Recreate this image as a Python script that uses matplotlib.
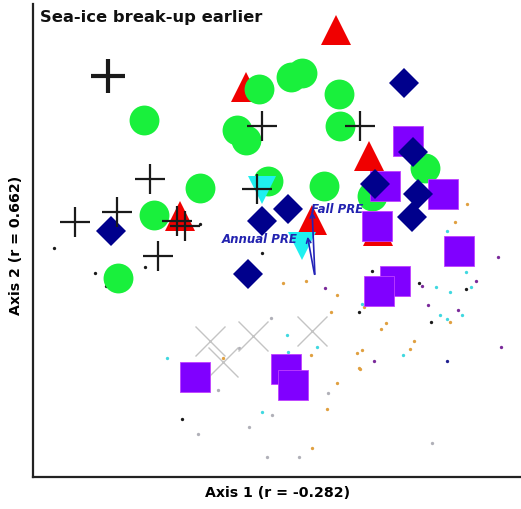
import matplotlib.pyplot as plt

# positions (pixel units, y grows downward)
green_x = [144, 259, 291, 302, 339, 237, 246, 340, 200, 154, 118, 268, 324, 372, 425]
green_y = [121, 90, 78, 74, 95, 131, 141, 127, 189, 216, 279, 182, 187, 197, 169]

red_x = [336, 246, 369, 180, 312, 378]
red_y = [31, 88, 157, 217, 221, 232]

cyan_x = [262, 302]
cyan_y = [191, 247]

purple_x = [408, 385, 443, 377, 459, 395, 379, 195, 286, 293]
purple_y = [142, 187, 195, 227, 252, 282, 292, 378, 370, 386]

navy_x = [404, 413, 375, 418, 412, 288, 262, 248, 111]
navy_y = [84, 153, 185, 195, 218, 210, 222, 275, 232]

plus_x = [262, 360, 150, 117, 75, 177, 185, 158, 257]
plus_y = [127, 127, 180, 213, 223, 222, 227, 257, 190]
bold_plus_x = [108]
bold_plus_y = [77]

cross_x = [210, 223, 253, 312]
cross_y = [342, 363, 337, 332]

# small site dots, by colour
dots = {
    "#1a1a1a": ([182, 372, 419, 466, 359, 431, 54, 95, 145, 106, 262, 200],
                [420, 272, 284, 290, 313, 323, 249, 274, 268, 287, 254, 225]),
    "#e0a040": ([283, 306, 337, 331, 223, 311, 357, 359, 337, 327, 312, 467, 455,
                 364, 450, 386, 381, 414, 410, 362, 360],
                [284, 282, 296, 313, 359, 356, 354, 369, 384, 410, 449, 205, 223,
                 308, 323, 324, 330, 342, 350, 351, 370]),
    "#40d8e0": ([287, 317, 167, 288, 262, 447, 466, 436, 471, 450, 362, 440, 447,
                 462, 403],
                [336, 348, 359, 353, 413, 232, 273, 288, 288, 293, 305, 316, 320,
                 316, 356]),
    "#b0b0b8": ([271, 239, 218, 328, 272, 198, 249, 267, 299, 432],
                [319, 349, 391, 394, 416, 435, 428, 458, 458, 444]),
    "#7a2a9a": ([325, 498, 476, 422, 428, 458, 374, 501],
                [289, 258, 282, 287, 306, 311, 362, 348]),
    "#ff60ff": ([370, 368], [285, 302]),
    "#202090": ([378, 447], [288, 362]),
}

arrow_x0, arrow_y0 = 315, 278
arrow_names = ["Fall PRE", "Annual PRE"]
arrow_x = [312, 307]
arrow_y = [210, 235]

fig = plt.figure(figsize=(5.21, 5.10), dpi=100)
ax = fig.add_axes([33 / 521, 32 / 510, 488 / 521, 473 / 510])

for c, (xs, ys) in dots.items():
    ax.plot(xs, ys, "o", color=c, ms=2.4, mew=0, zorder=1)

ax.plot(cross_x, cross_y, "x", color="#c4c4c4", ms=22, mew=1.0, zorder=2)
ax.plot(red_x, red_y, "^", color="#f00000", ms=22, mew=0, zorder=3)
ax.plot(green_x, green_y, "o", color="#19f03c", ms=21.5, mew=0, zorder=4)
ax.plot(cyan_x, cyan_y, "v", color="#1ff0f0", ms=20, mew=0, zorder=5)
ax.plot(purple_x, purple_y, "s", color="#8000ff", mec="#c040ff", ms=21, mew=0.6, zorder=6)
ax.plot(navy_x, navy_y, "D", color="#00008c", ms=15, mew=0, zorder=7)
ax.plot(plus_x, plus_y, "+", color="#1a1a1a", ms=22, mew=1.6, zorder=8)
ax.plot(bold_plus_x, bold_plus_y, "+", color="#1a1a1a", ms=24, mew=3.0, zorder=8)

for name, x, y in zip(arrow_names, arrow_x, arrow_y):
    ax.annotate("", xy=(x, y), xytext=(arrow_x0, arrow_y0),
                arrowprops=dict(arrowstyle="->", color="#2323b8", lw=1.2,
                                mutation_scale=8), zorder=9)
ax.text(arrow_x[0] - 1, arrow_y[0], arrow_names[0], color="#2323b0", fontsize=8.5,
        fontweight="bold", fontstyle="italic", ha="left", va="center", zorder=10)
ax.text(arrow_x[1] - 9, arrow_y[1] + 5, arrow_names[1], color="#2323b0", fontsize=8.5,
        fontweight="bold", fontstyle="italic", ha="right", va="center", zorder=10)

ax.text(40, 18, "Sea-ice break-up earlier", fontsize=11.8, fontweight="bold",
        ha="left", va="center", color="#111111")

ax.set_xlim(33, 521)
ax.set_ylim(478, 5)
ax.set_xticks([])
ax.set_yticks([])
for s in ["top", "right"]:
    ax.spines[s].set_visible(False)
for s in ["left", "bottom"]:
    ax.spines[s].set_linewidth(1.6)
    ax.spines[s].set_color("#222222")

fig.text(278 / 521, 1 - 493 / 510, "Axis 1 (r = -0.282)", fontsize=10.2,
         fontweight="bold", ha="center", va="center")
fig.text(16 / 521, 1 - 245 / 510, "Axis 2 (r = 0.662)", fontsize=10.2,
         fontweight="bold", ha="center", va="center", rotation=90)

fig.savefig("out.png", dpi=100)
